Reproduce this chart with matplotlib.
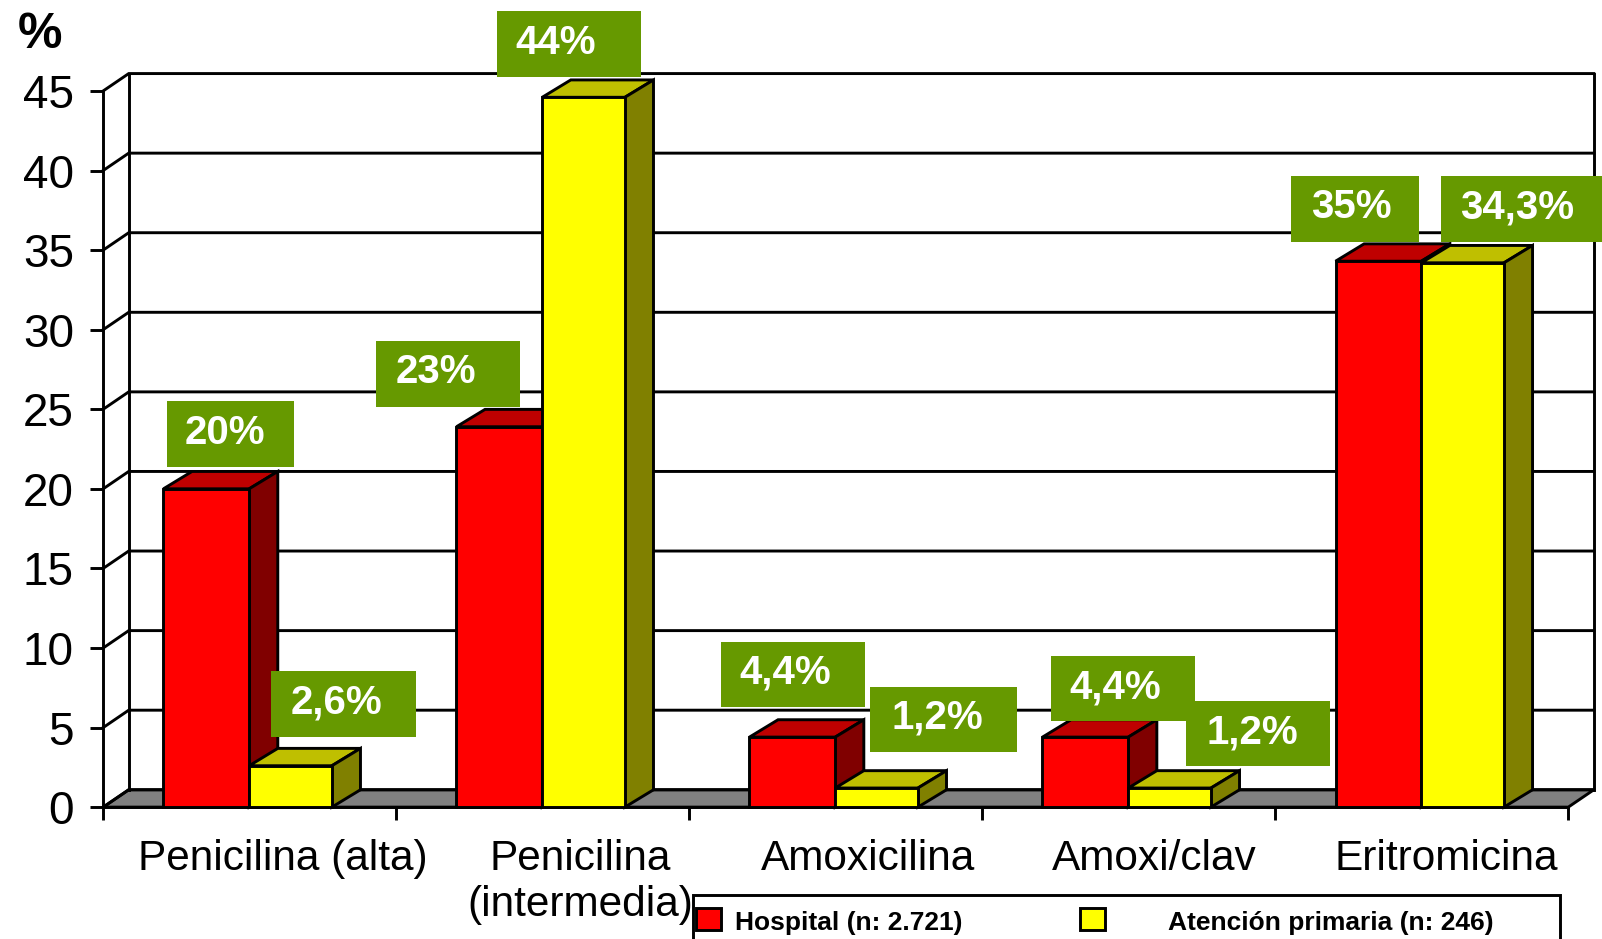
import matplotlib
matplotlib.use("Agg")
import matplotlib.pyplot as plt
from matplotlib.patches import Polygon, Rectangle
from matplotlib.transforms import Affine2D

categories = ["Penicilina (alta)", "Penicilina\n(intermedia)", "Amoxicilina", "Amoxi/clav", "Eritromicina"]
hospital = [20.0, 23.9, 4.4, 4.4, 34.3]
primaria = [2.6, 44.6, 1.2, 1.2, 34.2]
hospital_labels = ["20%", "23%", "4,4%", "4,4%", "35%"]
primaria_labels = ["2,6%", "44%", "1,2%", "1,2%", "34,3%"]
yticks = [0, 5, 10, 15, 20, 25, 30, 35, 40, 45]
legend_names = ["Hospital (n: 2.721)", "Atención primaria (n: 246)"]

W, H = 1602, 939
S = W / 1568
plt.rcParams["font.family"] = ["Liberation Sans", "DejaVu Sans"]

fig = plt.figure(figsize=(W / 100, H / 100), dpi=100, facecolor="white")
L, R, T, B = 101 * S, 1535 * S, 89 * S, 790 * S
ax = fig.add_axes([L / W, 1 - B / H, (R - L) / W, (B - T) / H])
ax.set_xlim(0, 5)
ax.set_ylim(0, 45)
ax.patch.set_visible(False)
for s in ax.spines.values():
    s.set_visible(False)

LW = 2.1
wall_dx, depth_dx, depth_dy = 25 / 287, 28 / 287, 17 / 15.58
kw = dict(edgecolor="black", linewidth=LW, joinstyle="miter", clip_on=False)

# walls, floor, gridlines
ax.add_patch(Polygon([(0, 0), (5, 0), (5 + wall_dx, depth_dy), (wall_dx, depth_dy)],
                     facecolor="#808080", zorder=1, **kw))
for v in yticks:
    ax.plot([0, wall_dx, 5 + wall_dx], [v, v + depth_dy, v + depth_dy],
            color="black", lw=LW, clip_on=False, zorder=1, solid_joinstyle="miter")
ax.plot([0, 0], [0, 45], color="black", lw=LW, clip_on=False, zorder=1.1)
ax.plot([wall_dx, wall_dx], [depth_dy, 45 + depth_dy], color="black", lw=LW, clip_on=False, zorder=1.1)
ax.plot([5 + wall_dx, 5 + wall_dx], [depth_dy, 45 + depth_dy], color="black", lw=LW, clip_on=False, zorder=1.1)
ax.plot([0, 5], [0, 0], color="black", lw=LW, clip_on=False, zorder=1.1)


def bar3d(x0, width, value, front, top, side, z):
    x1 = x0 + width
    ax.bar(x0, value, width, align="edge", color=front, zorder=z + 0.2, **kw)
    ax.add_patch(Polygon([(x0, value), (x1, value), (x1 + depth_dx, value + depth_dy),
                          (x0 + depth_dx, value + depth_dy)], facecolor=top, zorder=z, **kw))
    ax.add_patch(Polygon([(x1, 0), (x1, value), (x1 + depth_dx, value + depth_dy),
                          (x1 + depth_dx, depth_dy)], facecolor=side, zorder=z, **kw))


offset, w_red, w_yel = 59 / 287, 84 / 287, 81 / 287
for i, (a, b) in enumerate(zip(hospital, primaria)):
    bar3d(i + offset, w_red, a, "#FF0000", "#BF0000", "#800000", 2 + i)
    bar3d(i + offset + w_red, w_yel, b, "#FFFF00", "#BFBF00", "#808000", 2.5 + i)

# axis ticks
ax.set_yticks(yticks)
ax.set_xticks(range(6))
ax.set_xticklabels([])
tick_len = 13 * S * 0.72
ax.tick_params(axis="y", length=tick_len, width=LW, pad=11.5, labelsize=33)
ax.tick_params(axis="x", length=tick_len, width=LW)

# category labels (shift from category centre, in displayed pixels)
shifts = [32, 37, 32, 25, 24]
for i, (c, d) in enumerate(zip(categories, shifts)):
    ax.annotate(c, xy=(i + 0.5, 0), xytext=(d * S, -31 * S), textcoords="offset pixels",
                ha="center", va="top", fontsize=30.5, linespacing=1.2, color="black",
                annotation_clip=False, zorder=20)

# pixel-space helper (origin top-left, in displayed reference coordinates)
px = Affine2D().scale(S, -S).translate(0, H)
GREEN = "#669900"
boxes = [
    (163, 288, 392, 457, 181, 422, hospital_labels[0]),
    (368, 509, 334, 398, 387, 362, hospital_labels[1]),
    (706, 847, 628, 692, 724, 656, hospital_labels[2]),
    (1029, 1170, 642, 706, 1047, 671, hospital_labels[3]),
    (1264, 1389, 172, 237, 1283, 201, hospital_labels[4]),
    (265, 407, 657, 721, 284, 686, primaria_labels[0]),
    (486, 627, 11, 75, 504, 40, primaria_labels[1]),
    (852, 995, 672, 736, 873, 700, primaria_labels[2]),
    (1161, 1302, 686, 750, 1181, 715, primaria_labels[3]),
    (1410, 1568, 172, 237, 1429, 201, primaria_labels[4]),
]
for x0, x1, y0, y1, tx, ty, s in boxes:
    fig.add_artist(Rectangle((x0, y0), x1 - x0, y1 - y0, transform=px, facecolor=GREEN,
                             edgecolor="none", zorder=30))
    fig.text(tx, ty + 2, s, transform=px, color="white", fontsize=29, fontweight="bold",
             ha="left", va="center", zorder=31)

fig.text(17, 34, "%", transform=px, fontsize=36, fontweight="bold", color="black",
         ha="left", va="center")

# legend
fig.add_artist(Rectangle((678, 876), 1527 - 678, 60, transform=px, facecolor="white",
                         edgecolor="black", linewidth=LW, zorder=40))
for x, col in zip((681, 1057), ("#FF0000", "#FFFF00")):
    fig.add_artist(Rectangle((x, 889), 25, 21, transform=px, facecolor=col, edgecolor="black",
                             linewidth=LW, zorder=41))
for x, s in zip((719, 1143), legend_names):
    fig.text(x, 903, s, transform=px, fontsize=19, fontweight="bold",
             ha="left", va="center", color="black", zorder=41)

fig.savefig("out.png", dpi=100, facecolor="white")
